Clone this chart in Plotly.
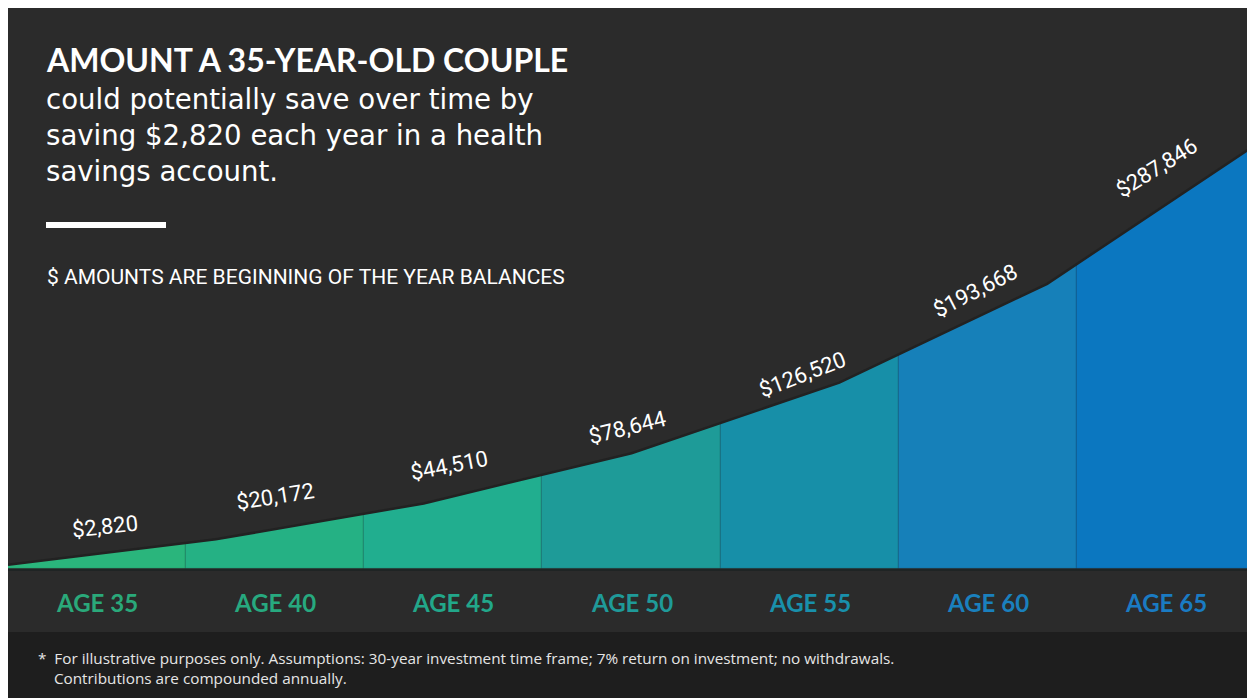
import plotly.graph_objects as go

# ---------------- data ----------------
ages = ["AGE 35", "AGE 40", "AGE 45", "AGE 50", "AGE 55", "AGE 60", "AGE 65"]
balances = [2820, 20172, 44510, 78644, 126520, 193668, 287846]
value_labels = ["$2,820", "$20,172", "$44,510", "$78,644", "$126,520", "$193,668", "$287,846"]

# ---------------- styles ----------------
band_colors = ["#2ab57c", "#25b184", "#21ae8f", "#1e9b98", "#178fa8", "#1680b9", "#0b77c0"]
age_colors = ["#2aa97a", "#27a97f", "#22a78a", "#1f9a99", "#1990ab", "#1a80bd", "#1a7bc3"]
label_angles = [-6, -9, -11, -14, -21, -27, -32]
label_yshift = [38, 43, 38, 26, 8, -7, -22]
label_xshift = [8, 0, -4, -4, -7, -12, -9]

W, H = 1255, 698
OFF = 8  # page offset of the figure inside the browser window
BG = "#2b2b2b"
FOOT = "#1e1e1e"
YMAX = 381000
COND = "Roboto, Liberation Sans Narrow, sans-serif"


def px(x):
    return (x - OFF) / W


def py(y):
    return 1 - (y - OFF) / H


fig = go.Figure()

# colored column bands (full height), masked above the curve afterwards
fig.add_trace(go.Bar(
    x=list(range(len(ages))), y=[YMAX] * len(ages), width=1,
    marker=dict(color=band_colors, line=dict(color="rgba(0,0,0,0.06)", width=1.5)),
    xaxis="x", yaxis="y", hoverinfo="skip", showlegend=False,
))

# top boundary for the dark mask
fig.add_trace(go.Scatter(
    x=[0, len(balances) - 1], y=[YMAX, YMAX], mode="lines",
    line=dict(width=0, color=BG), xaxis="x2", yaxis="y",
    hoverinfo="skip", showlegend=False,
))

# balance curve; area above it filled with the background colour
fig.add_trace(go.Scatter(
    x=list(range(len(balances))), y=balances, mode="lines",
    line=dict(color="#222222", width=2.5),
    fill="tonexty", fillcolor=BG,
    xaxis="x2", yaxis="y", hoverinfo="skip", showlegend=False,
))

shapes = [
    dict(type="rect", xref="paper", yref="paper", x0=0, x1=1, y0=py(632), y1=1,
         fillcolor=BG, line=dict(width=0), layer="below"),
    dict(type="rect", xref="paper", yref="paper", x0=0, x1=1, y0=0, y1=py(632),
         fillcolor=FOOT, line=dict(width=0), layer="below"),
    dict(type="rect", xref="paper", yref="paper", x0=px(46), x1=px(166), y0=py(228), y1=py(222),
         fillcolor="white", line=dict(width=0)),
    dict(type="line", xref="paper", yref="paper", x0=0, x1=1, y0=py(570), y1=py(570),
         line=dict(color="rgba(20,30,30,0.5)", width=2)),
]


def txt(text, x, y, family, size, color="white", yanchor="middle"):
    return dict(text=text, x=px(x), y=py(y), xref="paper", yref="paper",
                xanchor="left", yanchor=yanchor, showarrow=False, align="left",
                font=dict(family=family, size=size, color=color))


annotations = [
    txt("<b>AMOUNT A 35-YEAR-OLD COUPLE</b>", 44, 60, "Lato", 32),
    txt("could potentially save over time by<br>saving $2,820 each year in a health<br>savings account.",
        44, 136, "DejaVu Sans", 27.6),
    txt("$ AMOUNTS ARE BEGINNING OF THE YEAR BALANCES", 45, 277, COND, 21),
    txt("*  For illustrative purposes only. Assumptions: 30-year investment time frame; 7% return on investment; no withdrawals."
        "<br>    Contributions are compounded annually.",
        36, 668, "Open Sans", 15.3, "#e6e6e6"),
]

for i, (age, col) in enumerate(zip(ages, age_colors)):
    annotations.append(dict(
        text=f"<b>{age}</b>", x=i, y=py(602), xref="x", yref="paper",
        xanchor="center", yanchor="middle", showarrow=False,
        font=dict(family="Lato", size=24, color=col),
    ))

for i, (lab, val) in enumerate(zip(value_labels, balances)):
    annotations.append(dict(
        text=lab, x=i, y=val, xref="x", yref="y",
        xanchor="center", yanchor="middle", showarrow=False,
        textangle=label_angles[i], xshift=label_xshift[i], yshift=label_yshift[i],
        font=dict(family=COND, size=22, color="white"),
    ))

fig.update_layout(
    width=W, height=H,
    margin=dict(l=0, r=0, t=0, b=0),
    paper_bgcolor=BG, plot_bgcolor="rgba(0,0,0,0)",
    showlegend=False,
    bargap=0,
    shapes=shapes,
    annotations=annotations,
    xaxis=dict(domain=[0, (W - OFF) / W], range=[-0.5, len(ages) - 0.5], visible=False,
               fixedrange=True),
    xaxis2=dict(domain=[0, (W - OFF) / W], range=[0, len(balances) - 1], overlaying="x",
                visible=False, fixedrange=True),
    yaxis=dict(domain=[py(569), 1], range=[0, YMAX], visible=False, fixedrange=True),
)

fig.write_html("out.html", config={"displayModeBar": False})
